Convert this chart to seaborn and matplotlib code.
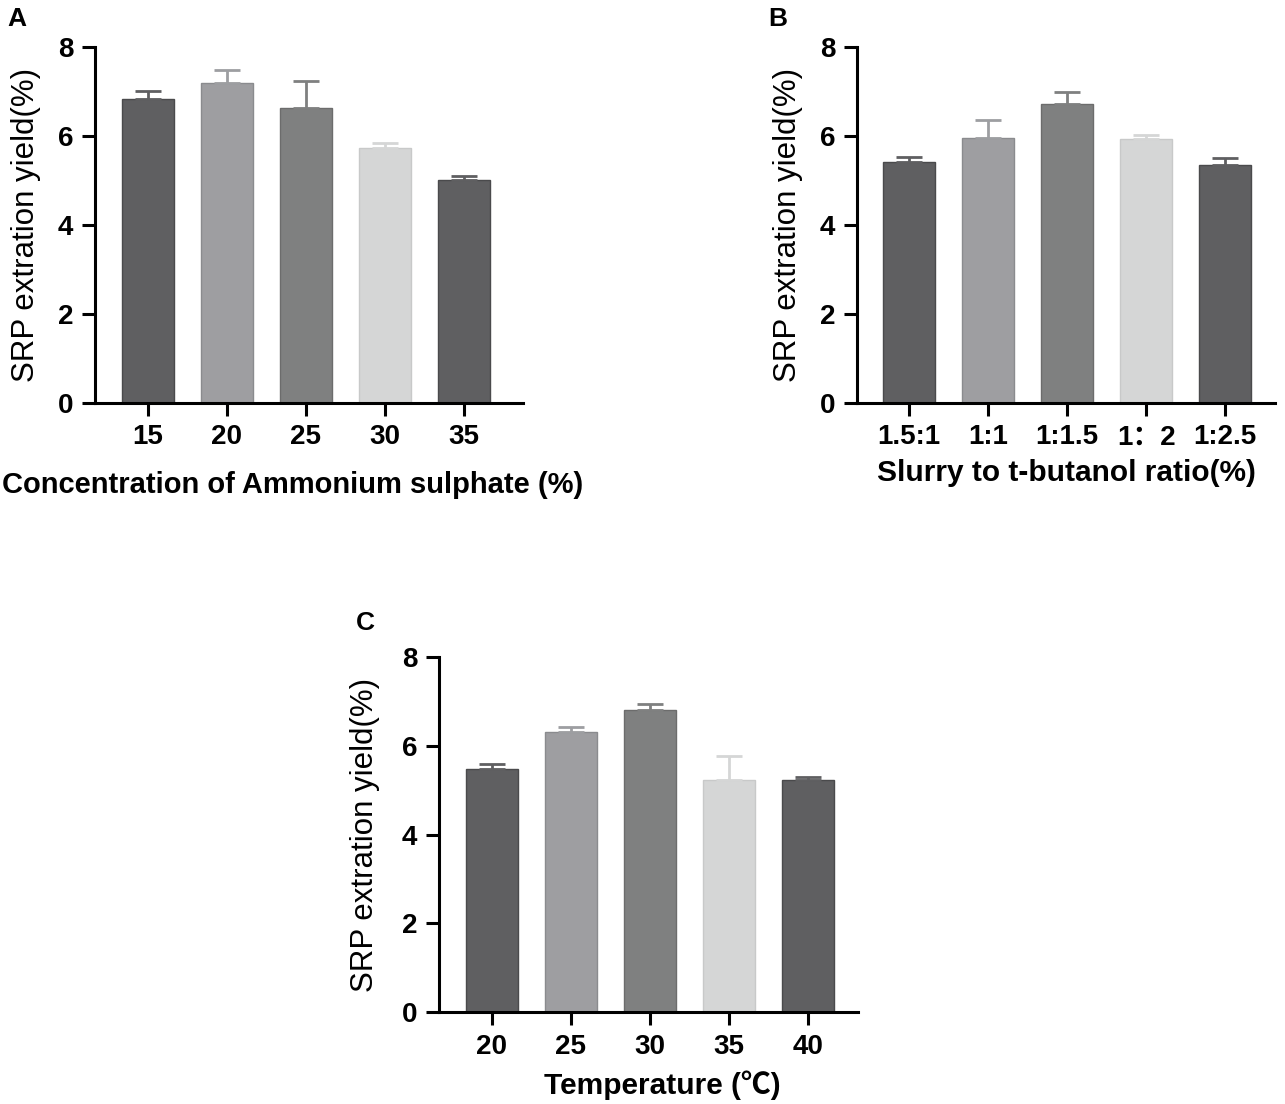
import numpy as np
import pandas as pd
import seaborn as sns
import matplotlib.pyplot as plt

sns.set_style('ticks')
plt.rcParams['font.family'] = ['Liberation Sans', 'Noto Sans CJK SC', 'DejaVu Sans']
for key in ['text.color', 'axes.labelcolor', 'xtick.color', 'ytick.color', 'axes.edgecolor']:
    plt.rcParams[key] = 'black'

# Panel A - ammonium sulphate concentration
conc_labels = ['15', '20', '25', '30', '35']
conc_yield = [6.84, 7.18, 6.63, 5.72, 5.00]
conc_err = [0.16, 0.31, 0.61, 0.12, 0.10]

# Panel B - slurry to t-butanol ratio
ratio_labels = ['1.5:1', '1:1', '1:1.5', '1：2', '1:2.5']
ratio_yield = [5.42, 5.96, 6.71, 5.93, 5.34]
ratio_err = [0.11, 0.40, 0.27, 0.08, 0.17]

# Panel C - temperature
temp_labels = ['20', '25', '30', '35', '40']
temp_yield = [5.47, 6.31, 6.81, 5.22, 5.22]
temp_err = [0.13, 0.12, 0.13, 0.56, 0.08]

bar_colors = ['#5f5f61', '#9d9ea1', '#7f8080', '#d5d6d6', '#5f5f61']
edge_colors = ['#4a4a4c', '#8a8b8e', '#6c6c6c', '#c8c9c9', '#4a4a4c']
ylabel = 'SRP extration yield(%)'


def draw_panel(ax, labels, values, errs, xlabel, xlim, xlabel_x=0.5, xpad=10,
               ypad=8, xsize=21.5):
    df = pd.DataFrame({'group': labels, 'value': values})
    sns.barplot(data=df, x='group', y='value', hue='group', palette=bar_colors,
                legend=False, width=0.66, ax=ax, linewidth=1)
    for patch, ec in zip(ax.patches, edge_colors):
        patch.set_edgecolor(ec)
    # upper-only error bars in the bar's own colour
    for i, (v, e) in enumerate(zip(values, errs)):
        ax.errorbar(i, v, yerr=[[0], [e]], color=bar_colors[i], elinewidth=2,
                    capsize=9.5, capthick=2, zorder=1)
    ax.set_ylim(0, 8)
    ax.set_yticks([0, 2, 4, 6, 8])
    ax.set_xlim(*xlim)
    sns.despine(ax=ax)
    for side in ['left', 'bottom']:
        ax.spines[side].set_linewidth(2.2)
    ax.tick_params(axis='both', width=2.2, length=9.5, labelsize=20, pad=6)
    for t in ax.get_xticklabels() + ax.get_yticklabels():
        t.set_fontweight('bold')
    ax.set_ylabel(ylabel, fontsize=22.5, labelpad=ypad)
    ax.set_xlabel(xlabel, fontsize=xsize, fontweight='bold', labelpad=xpad)
    ax.xaxis.label.set_x(xlabel_x)


fig = plt.figure(figsize=(12.85, 11.04), dpi=100)

ax_a = fig.add_axes([0.0739, 0.635, 0.333, 0.3225])
draw_panel(ax_a, conc_labels, conc_yield, conc_err,
           'Concentration of Ammonium sulphate (%)', (-0.67, 4.75),
           xlabel_x=0.463, xpad=15, ypad=12, xsize=21)

ax_b = fig.add_axes([0.6669, 0.635, 0.3253, 0.3225])
draw_panel(ax_b, ratio_labels, ratio_yield, ratio_err,
           'Slurry to t-butanol ratio(%)', (-0.66, 4.63),
           xpad=6, ypad=12)

ax_c = fig.add_axes([0.3416, 0.0833, 0.326, 0.3216])
draw_panel(ax_c, temp_labels, temp_yield, temp_err,
           'Temperature (℃)', (-0.67, 4.63), xlabel_x=0.532, xpad=8, ypad=16)

fig.text(0.006, 0.9937, 'A', fontsize=19, fontweight='bold', va='top')
fig.text(0.598, 0.9937, 'B', fontsize=19, fontweight='bold', va='top')
fig.text(0.277, 0.4465, 'C', fontsize=19, fontweight='bold', va='top')

fig.savefig('out.png', dpi=100)
